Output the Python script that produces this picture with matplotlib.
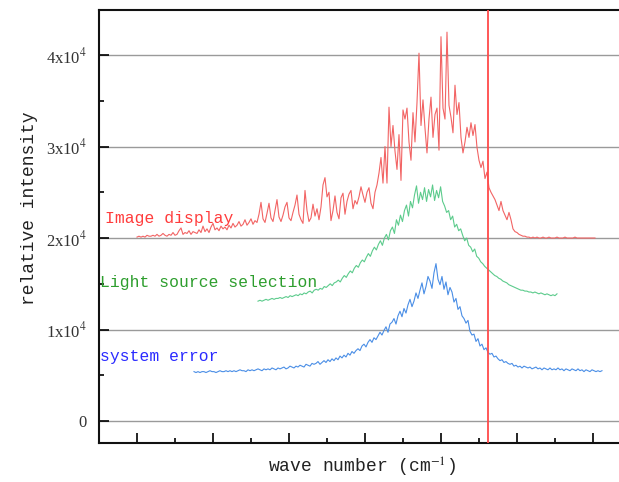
import numpy as np
import matplotlib
matplotlib.use("Agg")
import matplotlib.pyplot as plt
from matplotlib.ticker import MultipleLocator, FixedLocator, FixedFormatter

plt.rcParams['mathtext.fontset'] = 'stix'

# ---- data (intensity in units of 1e4, wave number in arbitrary cm^-1 scale) ----
red_x_range = (400.0, 1002.6)
red_y = [
    2.01, 2.02, 2.01, 2.02, 2.01, 2.03, 2.02, 2.02, 2.03, 2.02,
    2.04, 2.02, 2.03, 2.05, 2.03, 2.02, 2.04, 2.03, 2.06, 2.03,
    2.04, 2.08, 2.11, 2.04, 2.06, 2.05, 2.08, 2.04, 2.07, 2.06,
    2.05, 2.09, 2.06, 2.13, 2.07, 2.10, 2.06, 2.12, 2.16, 2.09,
    2.11, 2.08, 2.13, 2.10, 2.12, 2.09, 2.14, 2.11, 2.16, 2.12,
    2.14, 2.18, 2.13, 2.15, 2.20, 2.14, 2.17, 2.21, 2.15, 2.19,
    2.17, 2.26, 2.39, 2.21, 2.17, 2.27, 2.38, 2.22, 2.18, 2.30,
    2.42, 2.23, 2.18, 2.25, 2.34, 2.39, 2.22, 2.19, 2.28, 2.36,
    2.47, 2.26, 2.20, 2.16, 2.52, 2.30, 2.18, 2.22, 2.37, 2.24,
    2.32, 2.20, 2.34, 2.58, 2.66, 2.45, 2.50, 2.19, 2.30, 2.46,
    2.28, 2.21, 2.44, 2.49, 2.26, 2.40, 2.48, 2.52, 2.32, 2.41,
    2.37, 2.45, 2.56, 2.47, 2.39, 2.50, 2.55, 2.38, 2.32, 2.50,
    2.58, 2.71, 2.88, 2.60, 3.00, 2.60, 3.43, 3.00, 3.23, 2.95,
    2.75, 3.13, 2.63, 3.40, 3.30, 3.42, 3.05, 2.85, 3.37, 3.05,
    3.48, 4.02, 3.23, 3.51, 3.20, 2.93, 3.30, 3.54, 3.10, 3.35,
    3.42, 2.96, 4.20, 3.42, 3.30, 4.25, 3.45, 3.32, 3.15, 3.67,
    3.35, 3.48, 3.10, 2.93, 3.05, 3.21, 3.10, 3.26, 3.12, 3.24,
    2.99, 2.85, 2.77, 2.84, 2.65, 2.72, 2.55, 2.50, 2.46, 2.42,
    2.36, 2.30, 2.40, 2.30, 2.25, 2.20, 2.28, 2.20, 2.10, 2.07,
    2.06, 2.04, 2.03, 2.02, 2.02, 2.01, 2.01, 2.00, 2.01, 2.00,
    2.01, 2.00, 2.00, 2.01, 2.00, 2.00, 2.01, 2.00, 2.00, 2.00,
    2.01, 2.00, 2.00, 2.00, 2.01, 2.00, 2.00, 2.00, 2.00, 2.01,
    2.00, 2.00, 2.00, 2.00, 2.00, 2.00, 2.00, 2.00, 2.00, 2.00,
]

green_x_range = (559.2, 952.6)
green_y = [
    1.31, 1.32, 1.31, 1.32, 1.33, 1.32, 1.33, 1.34, 1.33, 1.34,
    1.34, 1.35, 1.34, 1.35, 1.36, 1.35, 1.37, 1.36, 1.37, 1.38,
    1.37, 1.39, 1.38, 1.40, 1.39, 1.41, 1.42, 1.40, 1.43, 1.44,
    1.43, 1.45, 1.44, 1.47, 1.46, 1.48, 1.50, 1.48, 1.51, 1.52,
    1.54, 1.52, 1.56, 1.59, 1.57, 1.61, 1.64, 1.62, 1.67, 1.70,
    1.68, 1.73, 1.76, 1.74, 1.79, 1.83, 1.80, 1.86, 1.90, 1.87,
    1.93, 1.97, 1.92, 2.00, 2.04, 1.98, 2.08, 2.12, 2.05, 2.20,
    2.14, 2.25, 2.18, 2.30, 2.36, 2.24, 2.40, 2.33, 2.47, 2.57,
    2.38, 2.50, 2.42, 2.55, 2.40, 2.53, 2.45, 2.58, 2.41, 2.52,
    2.44, 2.56, 2.40, 2.35, 2.28, 2.30, 2.20, 2.24, 2.12, 2.15,
    2.08, 2.10, 2.03, 1.97, 2.00, 1.92, 1.90, 1.85, 1.88, 1.80,
    1.78, 1.74, 1.72, 1.69, 1.67, 1.65, 1.63, 1.61, 1.59, 1.58,
    1.56, 1.55, 1.53, 1.52, 1.51, 1.49, 1.48, 1.47, 1.46, 1.45,
    1.44, 1.43, 1.43, 1.42, 1.42, 1.41, 1.41, 1.40, 1.41, 1.40,
    1.39, 1.40, 1.39, 1.38, 1.39, 1.38, 1.37, 1.38, 1.37, 1.39,
]

blue_x_range = (475.0, 1011.8)
blue_y = [
    0.54, 0.53, 0.54, 0.53, 0.54, 0.54, 0.53, 0.54, 0.55, 0.54,
    0.54, 0.53, 0.54, 0.55, 0.54, 0.54, 0.55, 0.54, 0.55, 0.54,
    0.55, 0.54, 0.55, 0.56, 0.55, 0.55, 0.54, 0.56, 0.55, 0.56,
    0.55, 0.56, 0.57, 0.56, 0.55, 0.57, 0.56, 0.57, 0.56, 0.58,
    0.57, 0.56, 0.58, 0.57, 0.58, 0.59, 0.57, 0.58, 0.60, 0.59,
    0.58, 0.60, 0.59, 0.61, 0.60, 0.59, 0.62, 0.61, 0.60, 0.63,
    0.62, 0.63, 0.65, 0.62, 0.64, 0.66, 0.64, 0.67, 0.65, 0.68,
    0.66, 0.69, 0.67, 0.71, 0.69, 0.72, 0.70, 0.74, 0.72, 0.76,
    0.74, 0.77, 0.79, 0.77, 0.82, 0.84, 0.81, 0.86, 0.89, 0.86,
    0.91, 0.89, 0.93, 0.97, 0.94, 0.99, 1.03, 0.97, 1.06, 1.08,
    1.12, 1.06, 1.15, 1.20, 1.14, 1.23, 1.18, 1.27, 1.33, 1.25,
    1.31, 1.40, 1.34, 1.43, 1.51, 1.39, 1.47, 1.58, 1.53, 1.45,
    1.62, 1.72, 1.55, 1.49, 1.58, 1.44, 1.52, 1.38, 1.46, 1.41,
    1.30, 1.34, 1.22, 1.25, 1.15, 1.12, 1.07, 1.10, 0.98, 0.94,
    0.95, 0.87, 0.90, 0.82, 0.84, 0.78, 0.80, 0.75, 0.73, 0.74,
    0.70, 0.71, 0.68, 0.66, 0.67, 0.64, 0.65, 0.63, 0.62, 0.63,
    0.60, 0.61, 0.59, 0.60, 0.58, 0.60, 0.59, 0.58, 0.59, 0.57,
    0.58, 0.59, 0.57, 0.58, 0.56, 0.58, 0.57, 0.56, 0.58, 0.56,
    0.57, 0.56, 0.58, 0.56, 0.57, 0.55, 0.57, 0.56, 0.55, 0.57,
    0.56, 0.55, 0.57, 0.55, 0.56, 0.54, 0.56, 0.55, 0.54, 0.56,
    0.55, 0.54, 0.55, 0.54, 0.55,
]

marker_line_x = 862.0
series_labels = ["Image display", "Light source selection", "system error"]
ytick_values = [0, 1, 2, 3, 4]
ytick_labels = ["0", "1x10$^{4}$", "2x10$^{4}$", "3x10$^{4}$", "4x10$^{4}$"]
xlabel = "wave number (cm$^{-1}$)"
ylabel = "relative intensity"

# ---- figure ----
W, H = 619, 482
fig = plt.figure(figsize=(W / 100, H / 100), dpi=100)
ax = fig.add_axes([99 / W, (H - 443) / H, (W - 99) / W, 433 / H])

red_x = np.linspace(*red_x_range, len(red_y))
green_x = np.linspace(*green_x_range, len(green_y))
blue_x = np.linspace(*blue_x_range, len(blue_y))

ax.plot(red_x, red_y, color='#f26464', lw=0.8, zorder=3)
ax.plot(green_x, green_y, color='#5ccb8c', lw=0.8, zorder=3)
ax.plot(blue_x, blue_y, color='#4a8ee6', lw=0.8, zorder=3)
ax.axvline(marker_line_x, color='#ff4a4a', lw=1.3, zorder=4)

ax.set_xlim(350, 1034.2)
ax.set_ylim(-0.240, 4.492)

for v in ytick_values:
    ax.axhline(v, color='#9a9a9a', lw=1.0, zorder=1)

ax.yaxis.set_major_locator(FixedLocator(ytick_values))
ax.yaxis.set_major_formatter(FixedFormatter(ytick_labels))
ax.yaxis.set_minor_locator(MultipleLocator(0.5))
ax.xaxis.set_major_locator(MultipleLocator(100))
ax.xaxis.set_minor_locator(MultipleLocator(50))
ax.tick_params(axis='x', which='both', direction='in', labelbottom=False, top=False, width=1.2)
ax.tick_params(axis='y', which='both', direction='in', right=False, width=1.2, pad=9)
ax.tick_params(which='major', length=7)
ax.tick_params(which='minor', length=3.5)
for lab in ax.get_yticklabels():
    lab.set_fontfamily('Liberation Serif')
    lab.set_fontsize(12)
    lab.set_color('#333333')

ax.spines['right'].set_visible(False)
for s in ['left', 'bottom', 'top']:
    ax.spines[s].set_linewidth(1.5)
    ax.spines[s].set_color('#111111')

mono = 'Liberation Mono'
fig.text(105 / W, 1 - 219 / H, series_labels[0], color='#ff3c3c', fontsize=11.8,
         family=mono, va='center', ha='left')
fig.text(100 / W, 1 - 282 / H, series_labels[1], color='#2e9e2e', fontsize=11.8,
         family=mono, va='center', ha='left')
fig.text(100 / W, 1 - 356 / H, series_labels[2], color='#2b2bff', fontsize=11.8,
         family=mono, va='center', ha='left')

fig.text(30 / W, 1 - 208 / H, ylabel, rotation=90, fontsize=13, family=mono,
         ha='center', va='center', color='#222222')
fig.text(362 / W, 1 - 467 / H, xlabel, fontsize=13, family=mono,
         ha='center', va='center', color='#222222')

fig.savefig('out.png', dpi=100)
